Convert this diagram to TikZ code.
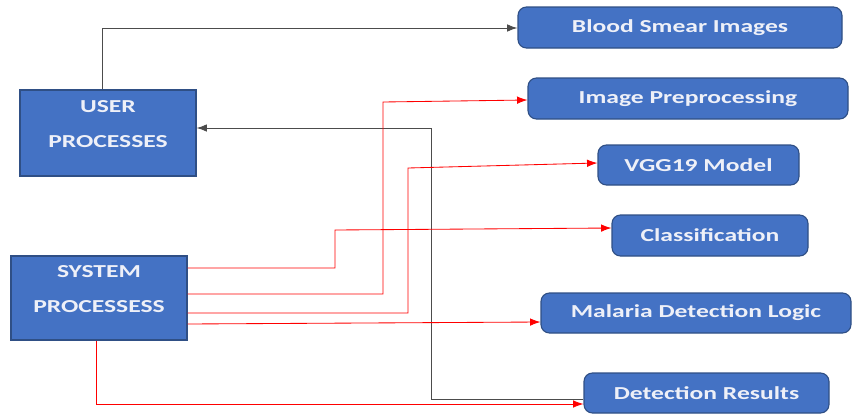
\documentclass[tikz,border=0pt]{standalone}
\usepackage{fontspec}
\setmainfont{Carlito}[FakeStretch=1.4]
\usetikzlibrary{arrows.meta}
\newlength\px
\setlength\px{0.025cm}
\definecolor{boxblue}{HTML}{4472C4}
\definecolor{boxline}{HTML}{2F4F85}
\definecolor{boxtext}{HTML}{EEF0F8}

\begin{document}
\begin{tikzpicture}[x=1\px, y=-1\px, font=\bfseries\fontsize{13}{15}\selectfont,
    box/.style={draw=boxline, line width=.8pt, fill=boxblue, text=boxtext, inner sep=0pt},
    sqbox/.style={box, align=center, text depth=18\px},
    rbox/.style={box, rounded corners=6pt},
    blk/.style={draw=black!70, line width=.7pt, -{Latex[length=2.6mm,width=1.9mm]}},
    rd/.style={draw=red!75, line width=.6pt, -{Latex[length=2.6mm,width=1.9mm]}, red}]
    \useasboundingbox (0,0) rectangle (854,414);
    % left side
    \node[sqbox, minimum width=176\px, minimum height=86\px] (user) at (108,133) {USER\\[10pt]PROCESSES};
    \node[sqbox, minimum width=176\px, minimum height=84\px] (sys) at (99,298) {SYSTEM\\[10pt]PROCESSESS};
    % right side
    \node[rbox, minimum width=324\px, minimum height=41\px] (blood) at (680,27.5) {Blood Smear Images};
    \node[rbox, minimum width=320\px, minimum height=41\px] (prep) at (688,98.5) {Image Preprocessing};
    \node[rbox, minimum width=201\px, minimum height=40\px] (vgg) at (698.5,165) {VGG19 Model};
    \node[rbox, minimum width=196\px, minimum height=41\px] (cls) at (710,235.5) {Classification};
    \node[rbox, minimum width=310\px, minimum height=40\px] (mal) at (696,313) {Malaria Detection Logic};
    \node[rbox, minimum width=245\px, minimum height=40\px] (res) at (706.5,393) {Detection Results};
    % connectors
    \draw[blk] ([xshift=-6\px]user.north) |- (blood.west |- 0,28);
    \draw[blk] (res.west |- 0,399) -| (431,128) -- (user.east |- 0,128);
    \draw[rd] (sys.east |- 0,268) -| (335,230) -- (cls.west |- 0,228);
    \draw[rd] (sys.east |- 0,294) -| (383,102) -- (prep.west |- 0,100);
    \draw[rd] (sys.east |- 0,313) -| (408,168) -- (vgg.west |- 0,163);
    \draw[rd] (sys.east |- 0,324) -- (mal.west |- 0,322);
    \draw[rd] ([xshift=-3\px]sys.south) |- (res.west |- 0,404);
\end{tikzpicture}
\end{document}
